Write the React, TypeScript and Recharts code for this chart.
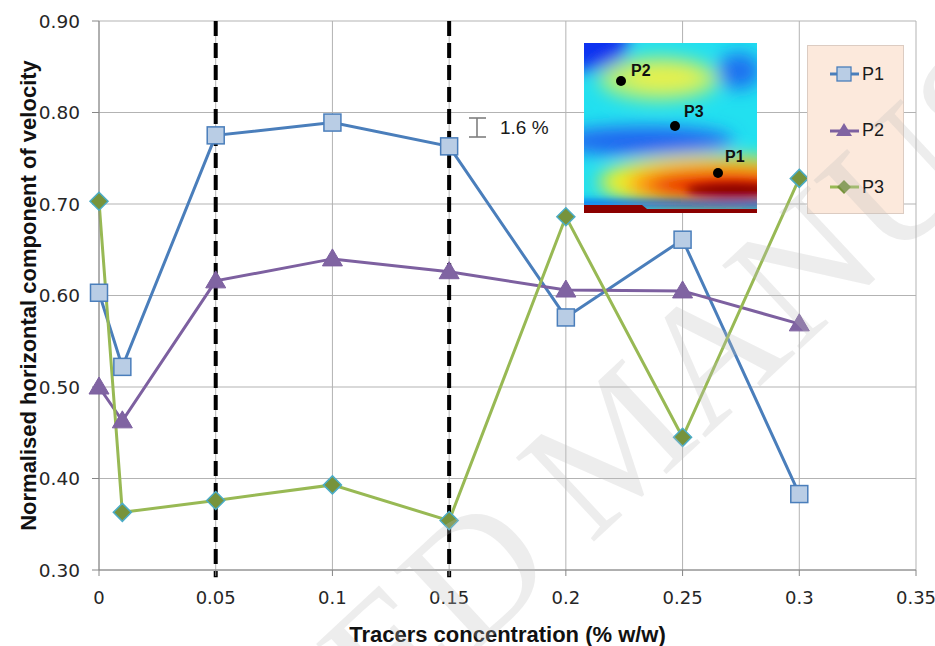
import React from 'react';
import {
  LineChart,
  Line,
  XAxis,
  YAxis,
  CartesianGrid,
  ReferenceLine,
  Legend,
} from 'recharts';

const concentrations = [0, 0.01, 0.05, 0.1, 0.15, 0.2, 0.25, 0.3];
const p1Values = [0.603, 0.522, 0.775, 0.789, 0.763, 0.576, 0.661, 0.383];
const p2Values = [0.5, 0.463, 0.616, 0.64, 0.626, 0.606, 0.605, 0.569];
const p3Values = [0.703, 0.363, 0.376, 0.393, 0.354, 0.686, 0.445, 0.728];
const xTicks = [0, 0.05, 0.1, 0.15, 0.2, 0.25, 0.3, 0.35];
const yTicks = [0.3, 0.4, 0.5, 0.6, 0.7, 0.8, 0.9];
const markedConcentrations = [0.05, 0.15];

const data = concentrations.map((x, i) => ({
  x,
  P1: p1Values[i],
  P2: p2Values[i],
  P3: p3Values[i],
}));

const FONT = "'DejaVu Sans', sans-serif";
const TITLE_FONT = "'Liberation Sans', Arial, sans-serif";

const Square = ({ cx, cy }: { cx: number; cy: number }) => (
  <rect x={cx - 8.5} y={cy - 8.5} width={17} height={17} fill="#b9cde5" stroke="#4a7ebb" strokeWidth={1.5} />
);
const Triangle = ({ cx, cy }: { cx: number; cy: number }) => (
  <path d={`M${cx},${cy - 10} L${cx + 10},${cy + 7} L${cx - 10},${cy + 7} Z`} fill="#8064a2" stroke="#7d60a0" strokeWidth={1} />
);
const Diamond = ({ cx, cy }: { cx: number; cy: number }) => (
  <path d={`M${cx},${cy - 9} L${cx + 9},${cy} L${cx},${cy + 9} L${cx - 9},${cy} Z`} fill="#77933c" stroke="#4bacc6" strokeWidth={1.5} />
);

const series = [
  { key: 'P1', color: '#4a7ebb', Marker: Square },
  { key: 'P2', color: '#7d60a0', Marker: Triangle },
  { key: 'P3', color: '#98b954', Marker: Diamond },
];

const dotFor = (Marker: any) => (props: any) => {
  const { cx, cy, index } = props;
  if (cx == null || cy == null) return <g key={index} />;
  return <Marker key={index} cx={cx} cy={cy} />;
};

const LegendBox = () => (
  <div
    style={{
      width: 97,
      height: 169,
      boxSizing: 'border-box',
      background: '#fce9dc',
      border: '1px solid #dcccc2',
      fontFamily: TITLE_FONT,
      fontSize: 18,
      color: '#1a1a1a',
    }}
  >
    {series.map((s, i) => (
      <div key={s.key} style={{ position: 'absolute', left: 22, top: 18 + i * 56.5, display: 'flex', alignItems: 'center' }}>
        <svg width={32} height={22}>
          <line x1={1} y1={11} x2={30} y2={11} stroke={s.color} strokeWidth={3} />
          {s.key === 'P1' && (
            <rect x={8} y={4} width={14} height={14} fill="#b9cde5" stroke="#4a7ebb" strokeWidth={1.3} />
          )}
          {s.key === 'P2' && <path d="M15,3 L23,16 L7,16 Z" fill="#8064a2" />}
          {s.key === 'P3' && <path d="M15,4 L22,11 L15,18 L8,11 Z" fill="#77933c" />}
        </svg>
        <span style={{ marginLeft: 1 }}>{s.key}</span>
      </div>
    ))}
  </div>
);

const Heatmap = () => (
  <g transform="translate(584,43)">
    <defs>
      <clipPath id="hm-clip">
        <rect x={0} y={0} width={173} height={170} />
      </clipPath>
      <filter id="hm-blur" x="-50%" y="-50%" width="200%" height="200%">
        <feGaussianBlur stdDeviation={9} />
      </filter>
      <filter id="hm-blur-s" x="-50%" y="-50%" width="200%" height="200%">
        <feGaussianBlur stdDeviation={4} />
      </filter>
    </defs>
    <g clipPath="url(#hm-clip)">
      <rect x={0} y={0} width={173} height={170} fill="#22e0f0" />
      <g filter="url(#hm-blur)">
        <ellipse cx={0} cy={0} rx={45} ry={28} fill="#1030f0" />
        <ellipse cx={155} cy={28} rx={22} ry={18} fill="#1a70f0" />
        <ellipse cx={75} cy={36} rx={60} ry={22} fill="#b6f070" />
        <ellipse cx={80} cy={34} rx={38} ry={12} fill="#e8f048" />
        <ellipse cx={60} cy={98} rx={90} ry={14} fill="#2060f0" />
        <ellipse cx={125} cy={139} rx={110} ry={27} fill="#f2f028" />
        <ellipse cx={135} cy={141} rx={92} ry={20} fill="#ff8a10" />
        <ellipse cx={142} cy={143} rx={78} ry={14} fill="#e81000" />
      </g>
      <g filter="url(#hm-blur-s)">
        <ellipse cx={150} cy={147} rx={48} ry={7} fill="#8a0000" />
        <rect x={-10} y={158} width={190} height={6} fill="#1040f0" />
      </g>
      <path d="M0,162 L58,162 L63,166 L173,166 L173,170 L0,170 Z" fill="#8b0000" />
      <circle cx={37} cy={38} r={5} fill="#000" />
      <circle cx={91} cy={83} r={5} fill="#000" />
      <circle cx={134} cy={130} r={5} fill="#000" />
      <g fontFamily={TITLE_FONT} fontWeight={700} fontSize={16} fill="#111">
        <text x={47} y={33}>P2</text>
        <text x={100} y={74}>P3</text>
        <text x={141} y={119}>P1</text>
      </g>
    </g>
  </g>
);

const Overlay = () => (
  <svg width={935} height={646} style={{ position: 'absolute', left: 0, top: 0, pointerEvents: 'none' }}>
    <Heatmap />
    <g stroke="#7f7f7f" strokeWidth={1.6}>
      <line x1={477} y1={118} x2={477} y2={137} />
      <line x1={469} y1={118} x2={486} y2={118} />
      <line x1={469} y1={137} x2={486} y2={137} />
    </g>
    <text x={500} y={134} fontFamily={TITLE_FONT} fontSize={19} fill="#1a1a1a">1.6 %</text>
    <g transform="translate(572,562) rotate(-43)" fontFamily="'Liberation Serif', serif" fontSize={175} fill="rgba(190,190,190,0.28)">
      <text x={-15} y={0} textAnchor="end">ACCEPTED</text>
      <text x={25} y={0} textAnchor="start">MANUSCRIPT</text>
    </g>
  </svg>
);

export default function App() {
  return (
    <div style={{ position: 'absolute', left: 0, top: 0, width: 935, height: 646, background: '#fff' }}>
      <LineChart width={935} height={646} data={data} margin={{ top: 21, right: 19, bottom: 0, left: 0 }}>
        <CartesianGrid stroke="#b3b3b3" strokeWidth={1} />
        <XAxis
          type="number"
          dataKey="x"
          domain={[0, 0.35]}
          ticks={xTicks}
          height={76}
          stroke="#868686"
          tickSize={6}
          tickMargin={15}
          tick={{ fontSize: 18, fontFamily: FONT, fill: '#262626' }}
          label={{
            value: 'Tracers concentration (% w/w)',
            position: 'insideBottom',
            offset: 4,
            style: { fontSize: 22, fontWeight: 700, fontFamily: TITLE_FONT, fill: '#111' },
          }}
        />
        <YAxis
          type="number"
          domain={[0.3, 0.9]}
          ticks={yTicks}
          width={99}
          stroke="#868686"
          tickSize={7}
          tickMargin={12}
          tickFormatter={(v: number) => v.toFixed(2)}
          tick={{ fontSize: 18.5, fontFamily: FONT, fill: '#262626' }}
          label={{
            value: 'Normalised horizontal component of velocity',
            angle: -90,
            position: 'insideLeft',
            offset: 28,
            style: { textAnchor: 'middle', fontSize: 22, fontWeight: 700, fontFamily: TITLE_FONT, fill: '#111' },
          }}
        />
        {markedConcentrations.map(c => (
          <ReferenceLine
            key={c}
            segment={[{ x: c, y: 0.9 }, { x: c, y: 0.292 }]}
            ifOverflow="visible"
            stroke="#000"
            strokeWidth={4}
            strokeDasharray="15 7"
          />
        ))}
        {series.map(s => (
          <Line
            key={s.key}
            type="linear"
            dataKey={s.key}
            stroke={s.color}
            strokeWidth={3}
            dot={dotFor(s.Marker)}
            activeDot={false}
            isAnimationActive={false}
          />
        ))}
        <Legend
          layout="horizontal"
          verticalAlign="middle"
          align="center"
          content={() => <LegendBox />}
          wrapperStyle={{ position: 'absolute', left: 807, top: 45, width: 97, height: 169 }}
        />
      </LineChart>
      <Overlay />
    </div>
  );
}
